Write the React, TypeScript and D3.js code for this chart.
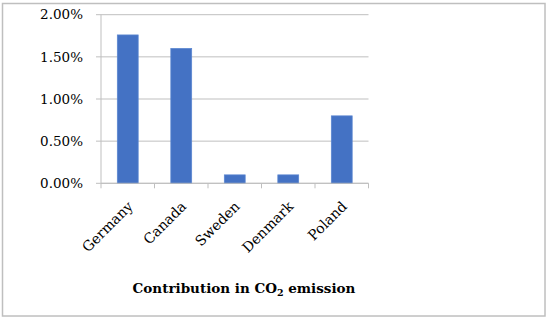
import { scaleBand, scaleLinear } from "d3";

const countries = ["Germany", "Canada", "Sweden", "Denmark", "Poland"];
const contributions = [1.76, 1.6, 0.1, 0.1, 0.8];
const yTicks = [0, 0.5, 1, 1.5, 2];

const WIDTH = 551;
const HEIGHT = 320;
const PLOT_LEFT = 101;
const PLOT_RIGHT = 368.5;
const PLOT_TOP = 14.7;
const PLOT_BOTTOM = 183.3;
const GRID = "#bfbfbf";
const BAR = "#4472c4";
const FONT = "'DejaVu Serif', 'Liberation Serif', serif";

export default function App() {
  const x = scaleBand<string>()
    .domain(countries)
    .range([PLOT_LEFT, PLOT_RIGHT])
    .paddingInner(0.61)
    .paddingOuter(0.305);
  const y = scaleLinear().domain([0, 2]).range([PLOT_BOTTOM, PLOT_TOP]);
  const step = x.step();
  const tickXs = countries.map((_, i) => PLOT_LEFT + i * step).concat([PLOT_RIGHT]);

  return (
    <svg
      width={WIDTH}
      height={HEIGHT}
      style={{ position: "absolute", left: 0, top: 0 }}
      fontFamily={FONT}
    >
      <rect x={0} y={0} width={WIDTH} height={HEIGHT} fill="#fff" />
      <rect x={2.5} y={3.5} width={542.5} height={312.5} fill="none" stroke={GRID} strokeWidth={1.5} />

      {yTicks.map((t) => (
        <g key={t}>
          <line x1={PLOT_LEFT - 5} x2={PLOT_RIGHT} y1={y(t)} y2={y(t)} stroke={GRID} strokeWidth={1} />
          <text x={83} y={y(t)} dy="0.35em" textAnchor="end" fontSize={13.5} fill="#000">
            {t.toFixed(2)}%
          </text>
        </g>
      ))}

      {countries.map((c, i) => (
        <rect
          key={c}
          x={x(c)}
          y={y(contributions[i])}
          width={x.bandwidth()}
          height={PLOT_BOTTOM - y(contributions[i])}
          fill={BAR}
          stroke="#5b86d0"
          strokeWidth={0.75}
        />
      ))}

      <line x1={PLOT_LEFT} x2={PLOT_LEFT} y1={PLOT_TOP} y2={PLOT_BOTTOM} stroke={GRID} />
      <line x1={PLOT_LEFT} x2={PLOT_RIGHT} y1={PLOT_BOTTOM} y2={PLOT_BOTTOM} stroke={GRID} />
      {tickXs.map((tx, i) => (
        <line key={i} x1={tx} x2={tx} y1={PLOT_BOTTOM} y2={PLOT_BOTTOM + 5} stroke={GRID} />
      ))}

      {countries.map((c) => {
        const cx = (x(c) ?? 0) + x.bandwidth() / 2 + 6;
        const cy = PLOT_BOTTOM + 24;
        return (
          <text
            key={c}
            x={cx}
            y={cy}
            textAnchor="end"
            fontSize={14}
            fill="#000"
            transform={`rotate(-45, ${cx}, ${cy})`}
          >
            {c}
          </text>
        );
      })}

      <text x={244} y={293} textAnchor="middle" fontSize={13.5} fontWeight="bold" fill="#000">
        Contribution in CO
        <tspan fontSize={9.5} dy={3}>2</tspan>
        <tspan dy={-3}> emission</tspan>
      </text>
    </svg>
  );
}
